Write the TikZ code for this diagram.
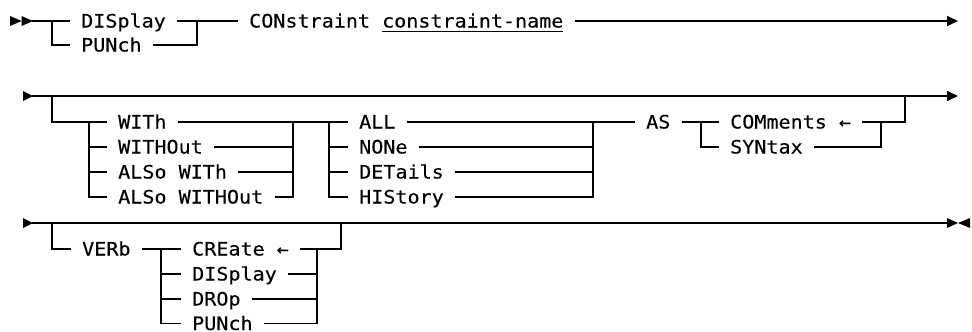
\documentclass[tikz,border=0pt]{standalone}
\usepackage{fontspec}
\usetikzlibrary{arrows.meta}
\newfontfamily\rrfont{DejaVu Sans Mono}[FakeStretch=1.085,FakeBold=0.2]
% underline drawn as a rule a little below the baseline
\newcommand{\varname}[1]{\setbox0\hbox{#1}\rlap{\rule[-4.5pt]{\wd0}{1.3pt}}\box0}
\tikzset{
  rail/.style={line width=1.6pt, line cap=rect, line join=miter},
  kw/.style={anchor=west, inner xsep=12pt, inner ysep=0pt,
             text height=13pt, text depth=0pt,
             font=\rrfont\fontsize{18.5pt}{20pt}\selectfont},
  endarrow/.style={rail, -{Triangle[length=11pt,width=10pt]}}
}
\begin{document}
\begin{tikzpicture}[x=1pt,y=-1pt]
\useasboundingbox (0,0) rectangle (972,332);

% ---------- first line: DISplay/PUNch CONstraint name ----------
\coordinate (r1s) at (33,21);
\coordinate (b1) at (52,21);
\coordinate (m1) at (197,21);
\coordinate (r1e) at (958,21);
\node[kw] (dis) at (69,21) {DISplay};
\node[kw] (pun) at (69,45) {PUNch};
\node[kw] (con) at (237,21) {CONstraint \varname{constraint-name}};

\fill (10,16) -- (21.5,21) -- (10,26) -- cycle;
\fill (21.5,16) -- (r1s) -- (21.5,26) -- cycle;
\draw[rail] (r1s) -- (dis.west);
\draw[rail] (b1) |- (pun.west);
\draw[rail] (dis.east) -- (con.west);
\draw[rail] (pun.east) -| (m1);
\draw[endarrow] (con.east) -- (r1e);

% ---------- second line: WITh/... ALL/... AS COMments/SYNtax ----------
\coordinate (r2s) at (33,96);
\coordinate (b2) at (52,96);
\coordinate (r2e) at (958,96);
\coordinate (g1l) at (89,122);
\coordinate (g1r) at (293,122);
\coordinate (g2l) at (329,122);
\coordinate (g2r) at (593,122);
\coordinate (asj) at (701,122);
\coordinate (cj) at (881,122);
\coordinate (r2m) at (905,96);

\node[kw] (wit)    at (106,122) {WITh};
\node[kw] (witout) at (106,147) {WITHOut};
\node[kw] (alsow)  at (106,172) {ALSo WITh};
\node[kw] (alsowo) at (106,197) {ALSo WITHOut};
\node[kw] (all)  at (347,122) {ALL};
\node[kw] (none) at (347,147) {NONe};
\node[kw] (det)  at (347,172) {DETails};
\node[kw] (his)  at (347,197) {HIStory};
\node[kw] (as)   at (634,122) {AS};
\node[kw] (com)  at (718,122) {COMments ←};
\node[kw] (syn)  at (718,147) {SYNtax};

\fill (23,91) -- (r2s) -- (23,101) -- cycle;
\draw[endarrow] (r2s) -- (r2e);
\draw[rail] (b2) |- (wit.west);
\draw[rail] (g1l) |- (alsowo.west);
\draw[rail] (g1l |- witout.west) -- (witout.west);
\draw[rail] (g1l |- alsow.west) -- (alsow.west);
\draw[rail] (wit.east) -- (all.west);
\draw[rail] (alsowo.east) -| (g1r);
\draw[rail] (witout.east) -- (g1r |- witout.east);
\draw[rail] (alsow.east) -- (g1r |- alsow.east);
\draw[rail] (g2l) |- (his.west);
\draw[rail] (g2l |- none.west) -- (none.west);
\draw[rail] (g2l |- det.west) -- (det.west);
\draw[rail] (all.east) -- (as.west);
\draw[rail] (his.east) -| (g2r);
\draw[rail] (none.east) -- (g2r |- none.east);
\draw[rail] (det.east) -- (g2r |- det.east);
\draw[rail] (as.east) -- (com.west);
\draw[rail] (asj) |- (syn.west);
\draw[rail] (syn.east) -| (cj);
\draw[rail] (com.east) -| (r2m);

% ---------- third line: VERb CREate/DISplay/DROp/PUNch ----------
\coordinate (r3s) at (33,223);
\coordinate (b3) at (52,223);
\coordinate (r3e) at (947,223);
\coordinate (vj) at (161,249);
\coordinate (vk) at (317,249);
\coordinate (r3m) at (341,223);

\node[kw] (verb)  at (70,249) {VERb};
\node[kw] (cre)   at (180,249) {CREate ←};
\node[kw] (disp)  at (180,274) {DISplay};
\node[kw] (drop)  at (180,299) {DROp};
\node[kw] (punch) at (180,323.5) {PUNch};

\fill (23,218) -- (r3s) -- (23,228) -- cycle;
\draw[rail] (r3s) -- (r3e);
\fill (r3e) ++(0,-5) -- (958,223) -- (947,228) -- cycle;
\fill (970,218) -- (958,223) -- (970,228) -- cycle;
\draw[rail] (b3) |- (verb.west);
\draw[rail] (verb.east) -- (cre.west);
\draw[rail] (vj) |- (punch.west);
\draw[rail] (vj |- disp.west) -- (disp.west);
\draw[rail] (vj |- drop.west) -- (drop.west);
\draw[rail] (punch.east) -| (vk);
\draw[rail] (disp.east) -- (vk |- disp.east);
\draw[rail] (drop.east) -- (vk |- drop.east);
\draw[rail] (cre.east) -| (r3m);
\end{tikzpicture}
\end{document}
